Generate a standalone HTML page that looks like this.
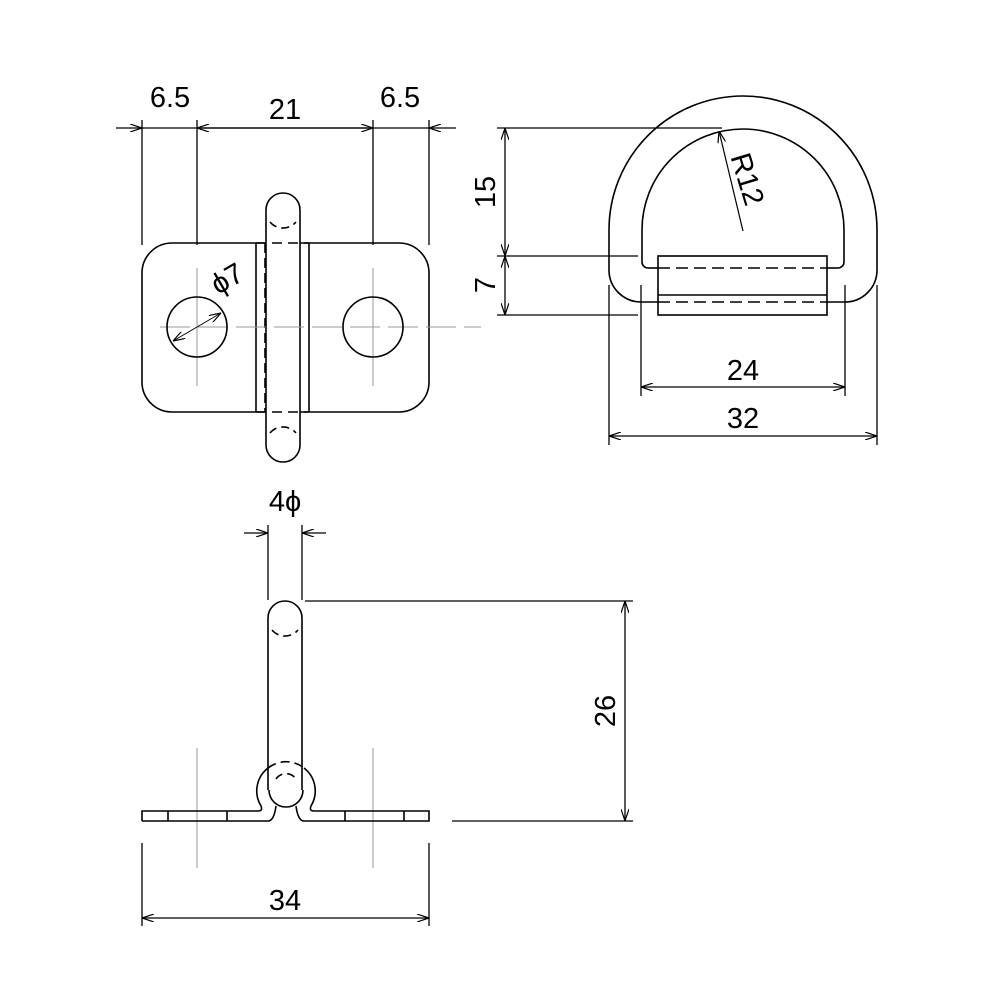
<!DOCTYPE html>
<html><head><meta charset="utf-8"><style>html,body{margin:0;padding:0;background:#fff}svg{display:block}text{font-family:"Liberation Sans",sans-serif;font-size:29px;fill:#000}</style></head><body>
<svg width="1000" height="1000" viewBox="0 0 1000 1000" xmlns="http://www.w3.org/2000/svg">
<defs>
<marker id="a" viewBox="0 0 12 8" refX="12" refY="4" markerWidth="12" markerHeight="8" markerUnits="userSpaceOnUse" orient="auto"><path d="M0,0 L12,4 L0,8" fill="none" stroke="#000" stroke-width="1.2"/></marker>
</defs>
<g fill="none" stroke="#000" stroke-width="1.6">
<!-- top-left view -->
<path d="M172,243 H399 A30,30 0 0 1 429,273 V382 A30,30 0 0 1 399,412 H172 A30,30 0 0 1 142,382 V273 A30,30 0 0 1 172,243 Z" fill="#fff"/>
<line x1="256" y1="243" x2="256" y2="412"/><line x1="309" y1="243" x2="309" y2="412"/>
<line x1="265" y1="243" x2="265" y2="412" stroke-dasharray="10,5"/>
<path d="M266,210 A17,17 0 0 1 300,210 V445 A17,17 0 0 1 266,445 Z" fill="#fff"/>
<path d="M270,222 A17,17 0 0 0 296,222" stroke-dasharray="8,5"/>
<path d="M270,433 A17,17 0 0 1 296,433" stroke-dasharray="8,5"/>
<g stroke-dasharray="10,6"><line x1="256" y1="243" x2="309" y2="243"/><line x1="256" y1="412" x2="309" y2="412"/></g>
<g stroke="#999" stroke-width="1" stroke-dasharray="30,8">
<line x1="160" y1="327" x2="481" y2="327"/>
</g>
<g stroke="#999" stroke-width="1">
<line x1="197" y1="268" x2="197" y2="386"/><line x1="373" y1="268" x2="373" y2="386"/>
</g>
<circle cx="197" cy="327" r="30"/><circle cx="373" cy="327" r="30"/>
<line x1="197" y1="327" x2="221" y2="313" stroke-width="1" marker-end="url(#a)"/>
<line x1="197" y1="327" x2="173" y2="341" stroke-width="1" marker-end="url(#a)"/>
<!-- top dims -->
<g stroke-width="1.3">
<line x1="142" y1="120" x2="142" y2="245"/><line x1="197" y1="120" x2="197" y2="245"/>
<line x1="373" y1="120" x2="373" y2="245"/><line x1="429" y1="120" x2="429" y2="245"/>
<line x1="116" y1="128" x2="142" y2="128" marker-end="url(#a)"/>
<line x1="456" y1="128" x2="429" y2="128" marker-end="url(#a)"/>
<line x1="142" y1="128" x2="429" y2="128"/>
<line x1="285" y1="128" x2="197" y2="128" marker-end="url(#a)"/>
<line x1="285" y1="128" x2="373" y2="128" marker-end="url(#a)"/>
</g>
<!-- D ring -->
<path d="M641,302 A32,32 0 0 1 609,270 V230 A134,134 0 0 1 877,230 V270 A32,32 0 0 1 845,302"/>
<path d="M648,268 A6,6 0 0 1 642,262 V230 A101,101 0 0 1 844,230 V262 A6,6 0 0 1 838,268"/>
<line x1="641" y1="302" x2="658" y2="302"/><line x1="827" y1="302" x2="845" y2="302"/>
<line x1="648" y1="268" x2="658" y2="268"/><line x1="827" y1="268" x2="838" y2="268"/>
<rect x="658" y="256" width="169" height="59" fill="#fff"/>
<line x1="658" y1="295" x2="827" y2="295"/>
<g stroke-dasharray="12,6"><line x1="658" y1="268" x2="827" y2="268"/><line x1="658" y1="302" x2="827" y2="302"/></g>
<line x1="743" y1="231" x2="719" y2="131" stroke-width="1.2" marker-end="url(#a)"/>
<g stroke-width="1.3">
<line x1="497" y1="128" x2="722" y2="128"/><line x1="497" y1="256" x2="638" y2="256"/><line x1="497" y1="315" x2="638" y2="315"/>
<line x1="505" y1="192" x2="505" y2="128" marker-end="url(#a)"/><line x1="505" y1="192" x2="505" y2="256" marker-end="url(#a)"/>
<line x1="505" y1="285" x2="505" y2="256" marker-end="url(#a)"/><line x1="505" y1="285" x2="505" y2="315" marker-end="url(#a)"/>
<line x1="641" y1="285" x2="641" y2="396"/><line x1="845" y1="285" x2="845" y2="396"/>
<line x1="609" y1="285" x2="609" y2="445"/><line x1="877" y1="285" x2="877" y2="445"/>
<line x1="743" y1="387" x2="641" y2="387" marker-end="url(#a)"/><line x1="743" y1="387" x2="845" y2="387" marker-end="url(#a)"/>
<line x1="743" y1="436" x2="609" y2="436" marker-end="url(#a)"/><line x1="743" y1="436" x2="877" y2="436" marker-end="url(#a)"/>
</g>
<!-- bottom view -->
<g stroke="#999" stroke-width="1"><line x1="197" y1="748" x2="197" y2="868"/><line x1="373" y1="748" x2="373" y2="868"/></g>
<path d="M142,821 V811 H258 Q263,811 261,806 A29,29 0 0 1 268,768"/>
<path d="M304,768 A29,29 0 0 1 311,806 Q309,811 314,811 H429 V821 H304 Q298,821 296,806"/>
<path d="M276,806 Q274,821 268,821 H142"/>
<path d="M268,768 A29,29 0 0 1 304,768" stroke-dasharray="9,5"/>
<g><line x1="168" y1="811" x2="168" y2="821"/><line x1="227" y1="811" x2="227" y2="821"/><line x1="345" y1="811" x2="345" y2="821"/><line x1="404" y1="811" x2="404" y2="821"/></g>
<path d="M269,790 A17,17 0 1 0 303,790"/>
<path d="M268,618 A17,17 0 0 1 302,618 V790 M268,618 V790"/>
<path d="M272,630 A17,17 0 0 0 298,630" stroke-dasharray="8,5"/>
<path d="M276,779 A12,12 0 0 1 296,779" stroke-dasharray="8,5"/>
<g stroke-width="1.3">
<line x1="268" y1="525" x2="268" y2="600"/><line x1="302" y1="525" x2="302" y2="600"/>
<line x1="244" y1="533" x2="268" y2="533" marker-end="url(#a)"/><line x1="326" y1="533" x2="302" y2="533" marker-end="url(#a)"/>
<line x1="305" y1="601" x2="633" y2="601"/><line x1="452" y1="821" x2="633" y2="821"/>
<line x1="625" y1="711" x2="625" y2="601" marker-end="url(#a)"/><line x1="625" y1="711" x2="625" y2="821" marker-end="url(#a)"/>
<line x1="142" y1="843" x2="142" y2="926"/><line x1="429" y1="843" x2="429" y2="926"/>
<line x1="285" y1="918" x2="142" y2="918" marker-end="url(#a)"/><line x1="285" y1="918" x2="429" y2="918" marker-end="url(#a)"/>
</g>
</g>
<text x="170" y="107" text-anchor="middle">6.5</text>
<text x="285" y="119" text-anchor="middle">21</text>
<text x="400" y="107" text-anchor="middle">6.5</text>
<text transform="translate(232,287) rotate(-30)" text-anchor="middle">ϕ7</text>
<text transform="translate(495,192) rotate(-90)" text-anchor="middle">15</text>
<text transform="translate(495,285) rotate(-90)" text-anchor="middle">7</text>
<text transform="translate(738,182) rotate(73)" text-anchor="middle">R12</text>
<text x="743" y="380" text-anchor="middle">24</text>
<text x="743" y="428" text-anchor="middle">32</text>
<text x="285" y="511" text-anchor="middle">4ϕ</text>
<text transform="translate(615,711) rotate(-90)" text-anchor="middle">26</text>
<text x="285" y="910" text-anchor="middle">34</text>
</svg>
</body></html>
